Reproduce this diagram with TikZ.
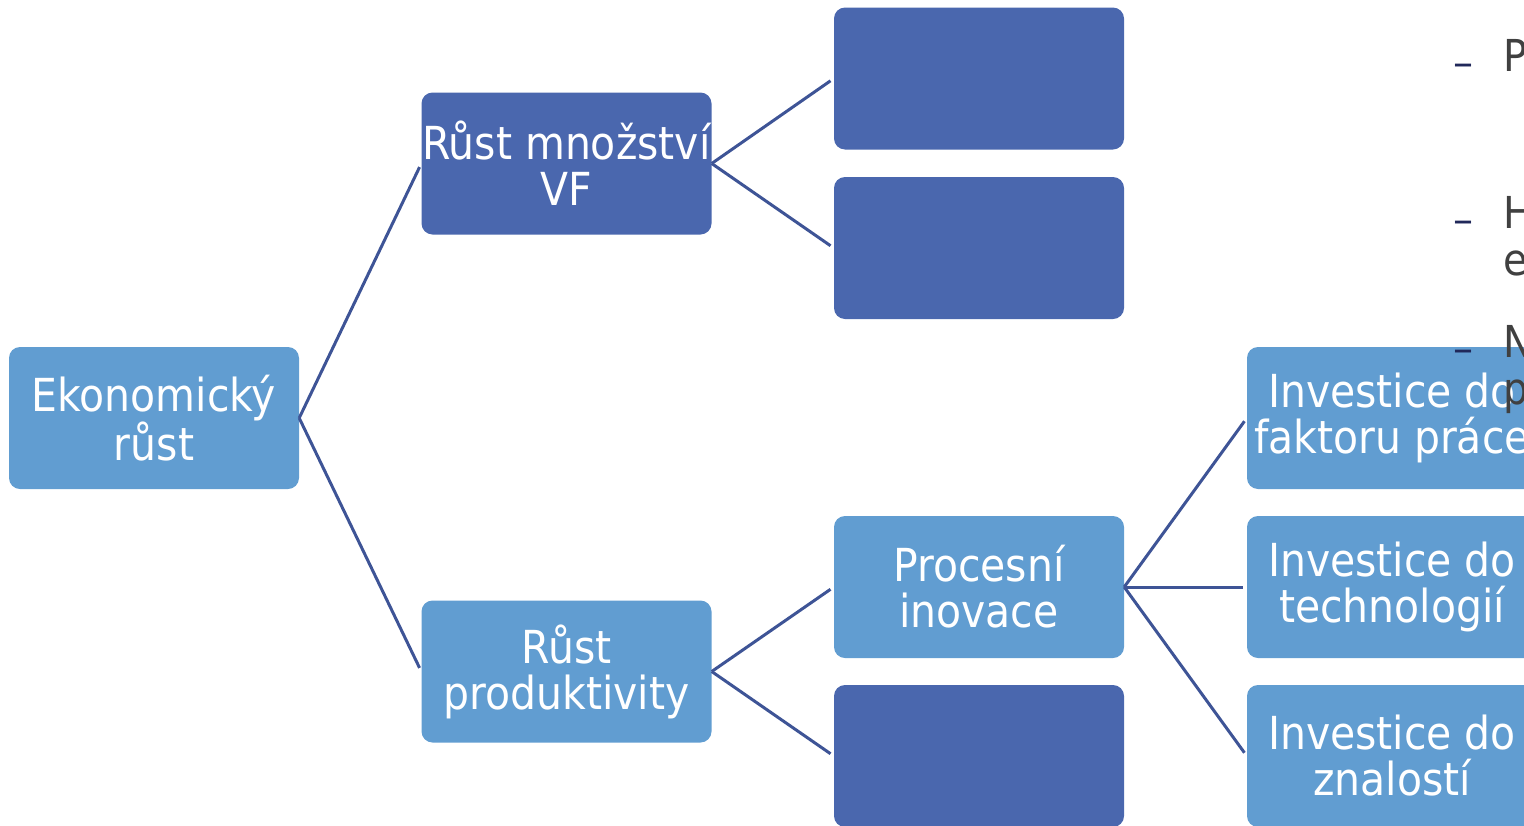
\documentclass[tikz,border=0pt]{standalone}
\usepackage{fontspec}
\setmainfont{DejaVu Sans Condensed}
\newfontfamily\dashfont{DejaVu Sans}
\definecolor{lightbox}{RGB}{97,157,209}
\definecolor{darkbox}{RGB}{74,103,174}
\definecolor{linkblue}{RGB}{62,84,150}
\definecolor{dashnavy}{RGB}{32,40,90}
\definecolor{bodygray}{RGB}{64,64,64}
\tikzset{
  box/.style={rectangle, rounded corners=11pt, minimum width=290pt, minimum height=142pt,
    inner sep=0pt, align=center, text=white, font=\fontsize{45.5}{46}\selectfont},
  lightnode/.style={box, fill=lightbox},
  darknode/.style={box, fill=darkbox},
  link/.style={draw=linkblue, line width=3pt, shorten >=4pt},
  bullettext/.style={anchor=base west, inner sep=0pt, text=bodygray, font=\fontsize{44}{44}\selectfont},
  bulletdash/.style={anchor=base west, inner sep=0pt, text=dashnavy, font=\dashfont\fontsize{40}{40}\selectfont}
}
\begin{document}
\begin{tikzpicture}[x=1pt,y=-1pt]
  \useasboundingbox (0,0) rectangle (1524,825);
  \clip (0,0) rectangle (1524,825);
  % tree of boxes
  \node[lightnode] (ek)   at (154,418)   {Ekonomický\\růst};
  \node[darknode]  (vf)   at (566.5,163.5) {Růst množství\\VF};
  \node[darknode]  (a1)   at (979,78.5)  {};
  \node[darknode]  (a2)   at (979,248)   {};
  \node[lightnode] (prod) at (566.5,671.5) {Růst\\produktivity};
  \node[lightnode] (proc) at (979,587)   {Procesní\\inovace};
  \node[darknode]  (a3)   at (979,756)   {};
  \node[lightnode] (inv1) at (1392,418)  {Investice do\\faktoru práce};
  \node[lightnode] (inv2) at (1392,587)  {Investice do\\technologií};
  \node[lightnode] (inv3) at (1392,756)  {Investice do\\znalostí};
  % connectors
  \draw[link] (ek.east) -- (vf.west);
  \draw[link] (ek.east) -- (prod.west);
  \draw[link] (vf.east) -- (a1.west);
  \draw[link] (vf.east) -- (a2.west);
  \draw[link] (prod.east) -- (proc.west);
  \draw[link] (prod.east) -- (a3.west);
  \draw[link] (proc.east) -- (inv1.west);
  \draw[link] (proc.east) -- (inv2.west);
  \draw[link] (proc.east) -- (inv3.west);
  % bullet list at the right edge
  \node[bulletdash] (d1) at (1453,76)  {–};
  \node[bullettext] (t1) at (1503,71)  {P};
  \node[bulletdash] (d2) at (1453,233) {–};
  \node[bullettext] (t2) at (1503,228) {H};
  \node[bullettext] (t3) at (1503,275) {e};
  \node[bulletdash] (d3) at (1453,362) {–};
  \node[bullettext] (t4) at (1503,357) {N};
  \node[bullettext] (t5) at (1503,404) {p};
\end{tikzpicture}
\end{document}
